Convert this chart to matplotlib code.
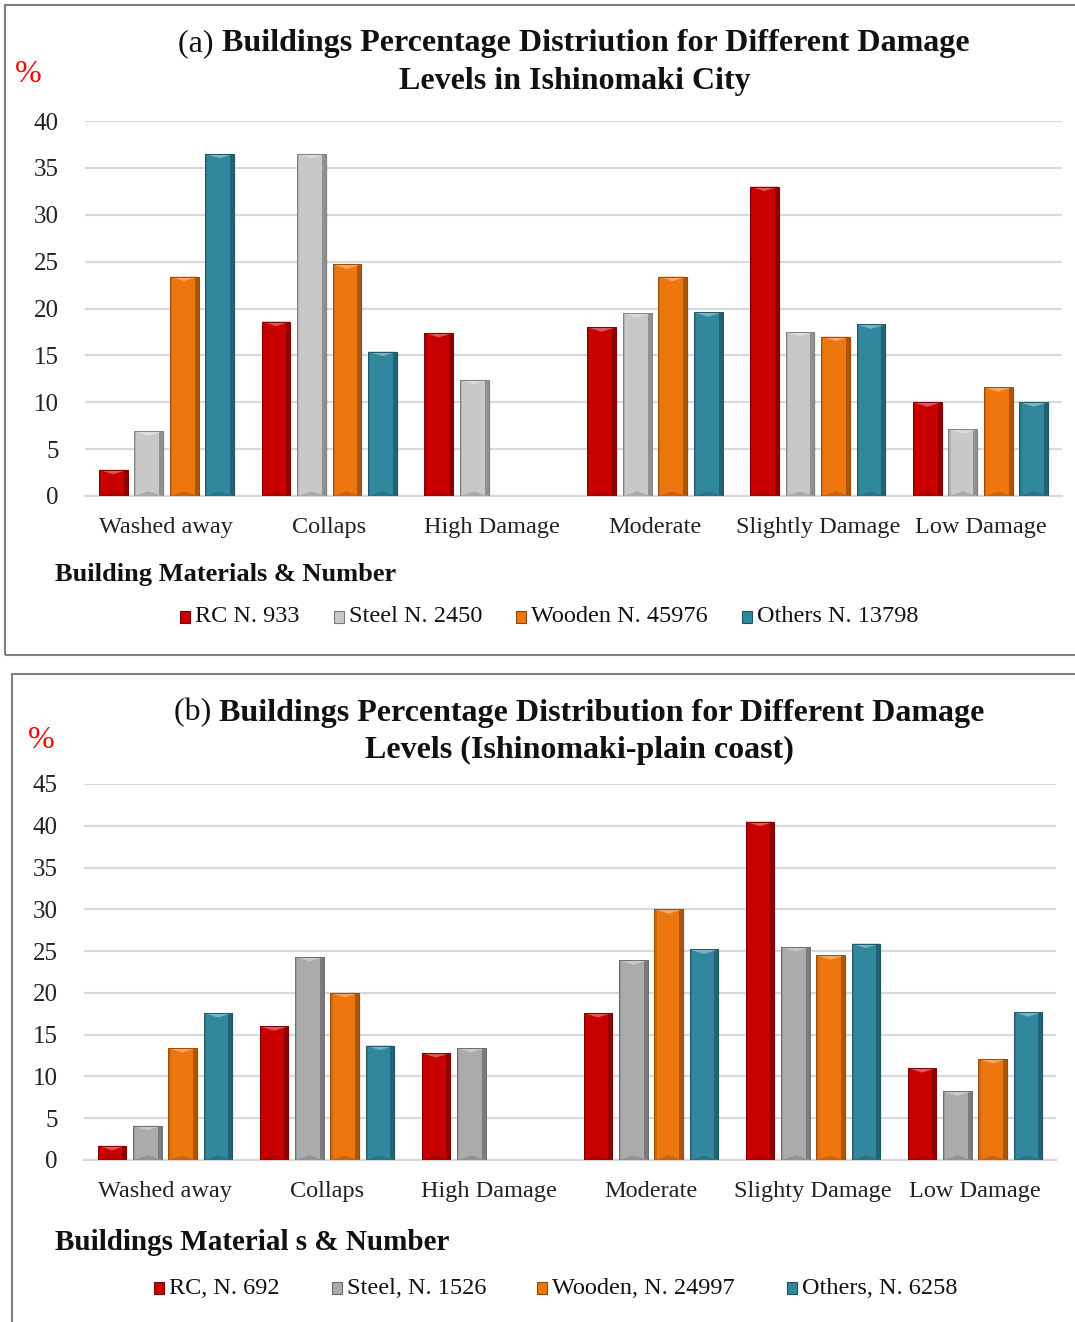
import matplotlib
matplotlib.use("Agg")
import matplotlib.pyplot as plt
from matplotlib.patches import Rectangle, Polygon
from matplotlib.colors import to_rgb

plt.rcParams['font.family'] = ['Liberation Serif', 'DejaVu Serif']

# ---- data -------------------------------------------------------------
levels_a = ["Washed away", "Collaps", "High Damage", "Moderate", "Slightly Damage", "Low Damage"]
levels_b = ["Washed away", "Collaps", "High Damage", "Moderate", "Slighty Damage", "Low Damage"]

legend_a = ["RC N. 933", "Steel N. 2450", "Wooden N. 45976", "Others N. 13798"]
legend_b = ["RC, N. 692", "Steel, N. 1526", "Wooden, N. 24997", "Others, N. 6258"]

rc_a     = [2.8, 18.6, 17.4, 18.0, 33.0, 10.0]
steel_a  = [6.9, 36.5, 12.4, 19.5, 17.5, 7.1]
wooden_a = [23.4, 24.7, 0.0, 23.4, 17.0, 11.6]
others_a = [36.5, 15.4, 0.0, 19.6, 18.3, 10.0]

rc_b     = [1.7, 16.0, 12.8, 17.6, 40.5, 11.0]
steel_b  = [4.1, 24.3, 13.4, 23.9, 25.5, 8.2]
wooden_b = [13.4, 20.0, 0.0, 30.0, 24.5, 12.1]
others_b = [17.6, 13.7, 0.0, 25.2, 25.9, 17.7]

yticks_a = [0, 5, 10, 15, 20, 25, 30, 35, 40]
yticks_b = [0, 5, 10, 15, 20, 25, 30, 35, 40, 45]

colors_a = ["#C80000", "#C8C8C8", "#EE760E", "#31889E"]
colors_b = ["#C80000", "#ABABAB", "#EE760E", "#31889E"]

W, H = 1075, 1322
fig = plt.figure(figsize=(W / 100, H / 100), dpi=100)


def fx(px):
    return px / W


def fy(py):
    return 1 - py / H


def shade(c, f):
    r, g, b = to_rgb(c)
    if f < 1:
        return (r * f, g * f, b * f)
    t = f - 1
    return (r + (1 - r) * t, g + (1 - g) * t, b + (1 - b) * t)


def bevel_bars(ax, series, colors, px_per_unit):
    n = len(series)
    step = 0.218
    width = 0.178
    for k, (vals, col) in enumerate(zip(series, colors)):
        xs = [i + (k - (n - 1) / 2) * step for i in range(len(vals))]
        bars = ax.bar(xs, vals, width=width, color=col, edgecolor=shade(col, 0.8),
                      linewidth=0.6, zorder=3)
        d = 4.5 / px_per_unit
        for b in bars:
            h = b.get_height()
            if h <= 0:
                continue
            x0, w = b.get_x(), b.get_width()
            # soft drop shadow
            ax.add_patch(Rectangle((x0 + w * 0.06, 0), w, h - 0.15,
                                   color="#000000", alpha=0.07, zorder=2, linewidth=0))
            # darker side strips
            ax.add_patch(Rectangle((x0 + w * 0.86, 0), w * 0.14, h,
                                   color=shade(col, 0.72), zorder=4, linewidth=0))
            ax.add_patch(Rectangle((x0, 0), w * 0.08, h,
                                   color=shade(col, 0.88), zorder=4, linewidth=0))
            # light top chevron
            ax.add_patch(Polygon([(x0, h), (x0 + w, h), (x0 + w * 0.5, h - d)],
                                 closed=True, color=shade(col, 1.35), zorder=5, linewidth=0))
            # dark bottom chevron
            dd = min(d, h * 0.5)
            ax.add_patch(Polygon([(x0, 0), (x0 + w, 0), (x0 + w * 0.5, dd)],
                                 closed=True, color=shade(col, 0.85), zorder=5, linewidth=0))
            ax.add_patch(Rectangle((x0, 0), w, h, fill=False,
                                   edgecolor=shade(col, 0.65), linewidth=0.7, zorder=6))


def panel(ax, cats, series, colors, yticks, px_per_unit):
    bevel_bars(ax, series, colors, px_per_unit)
    ax.set_xlim(-0.5, len(cats) - 0.5)
    ax.set_ylim(0, yticks[-1])
    ax.set_yticks(yticks)
    ax.set_yticklabels([str(t) for t in yticks], fontsize=18)
    ax.set_xticks(range(len(cats)))
    ax.set_xticklabels(cats, fontsize=17.5)
    ax.tick_params(axis="both", length=0, colors="#222222")
    ax.tick_params(axis="y", pad=19)
    ax.tick_params(axis="x", pad=15)
    ax.grid(axis="y", color="#D9D9D9", linewidth=1.6, zorder=0)
    ax.set_axisbelow(True)
    for s in ["top", "right", "left"]:
        ax.spines[s].set_visible(False)
    ax.spines["bottom"].set_color("#D9D9D9")
    ax.spines["bottom"].set_linewidth(1.6)


renderer = fig.canvas.get_renderer()


def mixed_line(cx_px, cy_px, plain, bold, size):
    t1 = fig.text(0, 0, plain, fontsize=size, va="center", ha="left", color="#111111")
    t2 = fig.text(0, 0, bold, fontsize=size, va="center", ha="left",
                  fontweight="bold", color="#111111")
    w1 = t1.get_window_extent(renderer).width
    w2 = t2.get_window_extent(renderer).width
    x0 = cx_px - (w1 + w2) / 2
    t1.set_position((fx(x0), fy(cy_px)))
    t2.set_position((fx(x0 + w1), fy(cy_px)))


def legend_row(y_px, labels, colors, marker_x):
    for lab, col, mx in zip(labels, colors, marker_x):
        sw, sh = 10, 12
        fig.patches.append(Rectangle((fx(mx - sw / 2), fy(y_px + sh / 2)), sw / W, sh / H,
                                     transform=fig.transFigure, facecolor=col,
                                     edgecolor=shade(col, 0.6), linewidth=0.8))
        fig.text(fx(mx + 10), fy(y_px), lab, fontsize=17.5, va="center", ha="left",
                 color="#111111")


# ---- panel (a) --------------------------------------------------------
fig.patches.append(Rectangle((fx(5), fy(655)), fx(1090 - 5), (655 - 5) / H,
                             transform=fig.transFigure, fill=False,
                             edgecolor="#808080", linewidth=1.5))
ax_a = fig.add_axes([fx(85), fy(496), fx(1062 - 85), (496 - 121) / H])
panel(ax_a, levels_a, [rc_a, steel_a, wooden_a, others_a], colors_a, yticks_a,
      (496 - 121) / 40)
mixed_line(574, 44, "(a) ", "Buildings Percentage Distriution for Different Damage", 23)
fig.text(fx(575), fy(81), "Levels in Ishinomaki City", fontsize=23, fontweight="bold",
         ha="center", va="center", color="#111111")
fig.text(fx(15), fy(74), "%", fontsize=23, color="#FF0000", ha="left", va="center")
fig.text(fx(55), fy(575), "Building Materials & Number", fontsize=19, fontweight="bold",
         ha="left", va="center", color="#111111")
legend_row(617, legend_a, colors_a, [185, 339, 521, 747])

# ---- panel (b) --------------------------------------------------------
fig.patches.append(Rectangle((fx(12), fy(1340)), fx(1090 - 12), (1340 - 674) / H,
                             transform=fig.transFigure, fill=False,
                             edgecolor="#808080", linewidth=1.5))
ax_b = fig.add_axes([fx(84), fy(1160), fx(1056 - 84), (1160 - 784) / H])
panel(ax_b, levels_b, [rc_b, steel_b, wooden_b, others_b], colors_b, yticks_b,
      (1160 - 784) / 45)
mixed_line(579, 713, "(b) ", "Buildings Percentage Distribution for Different Damage", 23)
fig.text(fx(579), fy(750), "Levels (Ishinomaki-plain coast)", fontsize=23,
         fontweight="bold", ha="center", va="center", color="#111111")
fig.text(fx(28), fy(741), "%", fontsize=23, color="#FF0000", ha="left", va="center")
fig.text(fx(55), fy(1243), "Buildings Material s & Number", fontsize=21,
         fontweight="bold", ha="left", va="center", color="#111111")
legend_row(1288, legend_b, colors_b, [159, 337, 542, 792])

fig.savefig("out.png", dpi=100, facecolor="white")
